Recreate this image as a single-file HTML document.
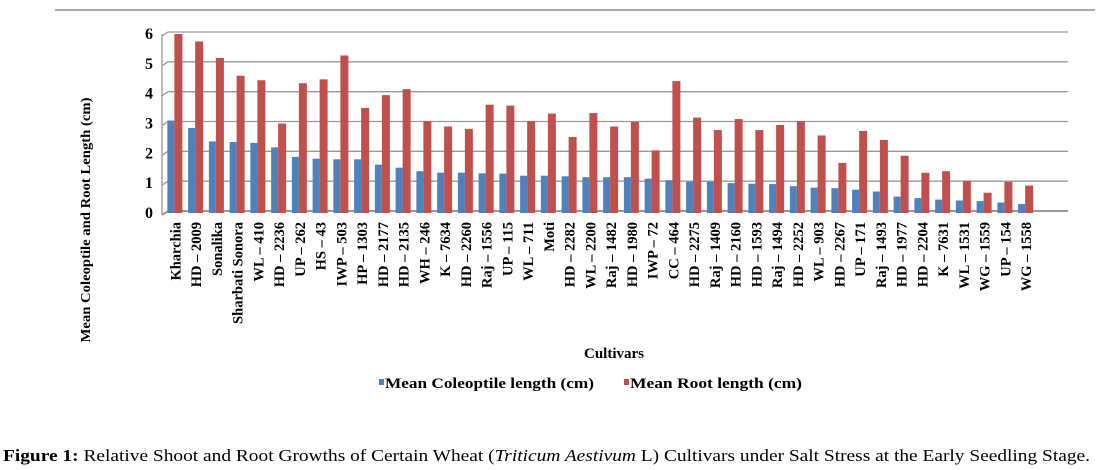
<!DOCTYPE html>
<html><head><meta charset="utf-8"><style>
html,body{margin:0;padding:0;background:#fff;}
svg{display:block;font-family:"Liberation Serif",serif;}
</style></head><body>
<svg id="chart" width="1097" height="470" viewBox="0 0 1097 470" xmlns="http://www.w3.org/2000/svg">
<line x1="55" y1="10" x2="1095" y2="10" stroke="#555" stroke-width="1"/>
<g id="grid"></g><g id="bars"></g><g id="xlabels"></g><g id="ylabels"></g>
<text transform="translate(90,220) rotate(-90)" text-anchor="middle" font-size="14" font-weight="bold" textLength="245" lengthAdjust="spacingAndGlyphs">Mean Coleoptile and Root Length (cm)</text>
<text x="614" y="358" text-anchor="middle" font-size="15" font-weight="bold">Cultivars</text>
<g>
<rect x="379" y="379" width="5" height="6" fill="#4f81bd"/>
<text x="385" y="388" font-size="15" font-weight="bold" textLength="209" lengthAdjust="spacingAndGlyphs">Mean Coleoptile length (cm)</text>
<rect x="624" y="379" width="5" height="6" fill="#c0504d"/>
<text x="630" y="388" font-size="15" font-weight="bold" textLength="172" lengthAdjust="spacingAndGlyphs">Mean Root length (cm)</text>
</g>
<text x="3" y="461" font-size="17" textLength="1087" lengthAdjust="spacingAndGlyphs"><tspan font-weight="bold">Figure 1:</tspan> Relative Shoot and Root Growths of Certain Wheat (<tspan font-style="italic">Triticum Aestivum</tspan> L) Cultivars under Salt Stress at the Early Seedling Stage.</text>
</svg>
<script>
const categories=["Kharchia","HD – 2009","Sonalika","Sharbati Sonora","WL – 410","HD – 2236","UP – 262","HS – 43","IWP – 503","HP – 1303","HD – 2177","HD – 2135","WH – 246","K – 7634","HD – 2260","Raj – 1556","UP – 115","WL – 711","Moti","HD – 2282","WL – 2200","Raj – 1482","HD – 1980","IWP – 72","CC – 464","HD – 2275","Raj – 1409","HD – 2160","HD – 1593","Raj – 1494","HD – 2252","WL – 903","HD – 2267","UP – 171","Raj – 1493","HD – 1977","HD – 2204","K – 7631","WL – 1531","WG – 1559","UP – 154","WG – 1558"];
const coleoptile=[3.1,2.85,2.4,2.38,2.35,2.2,1.88,1.82,1.8,1.8,1.62,1.52,1.4,1.35,1.35,1.33,1.32,1.25,1.25,1.23,1.2,1.2,1.2,1.15,1.1,1.05,1.05,1.0,0.98,0.97,0.9,0.85,0.83,0.78,0.72,0.55,0.5,0.45,0.42,0.4,0.35,0.3];
const root=[6.0,5.75,5.2,4.6,4.45,3.0,4.35,4.48,5.28,3.52,3.95,4.15,3.08,2.9,2.82,3.63,3.6,3.08,3.33,2.55,3.35,2.9,3.05,2.1,4.42,3.2,2.78,3.15,2.78,2.95,3.08,2.6,1.68,2.75,2.45,1.92,1.35,1.4,1.08,0.68,1.05,0.92];
const yTicks=[0,1,2,3,4,5,6];
const NS="http://www.w3.org/2000/svg";
const x0=165,cw=20.75,yb=213,yt=34,ymax=6;
const y=v=>yb-(v/ymax)*(yb-yt);
const xc=i=>x0+cw*i+cw/2;
function mk(t,a,p){const e=document.createElementNS(NS,t);for(const k in a)e.setAttribute(k,a[k]);p.appendChild(e);return e;}
const grid=document.getElementById('grid'),bars=document.getElementById('bars'),xl=document.getElementById('xlabels'),yl=document.getElementById('ylabels');
yTicks.forEach(v=>{
  const l=mk('polyline',{points:`${x0-3},${y(v)+2} ${x0+3},${y(v)-2} 1068,${y(v)-2}`,fill:'none',stroke:'#999','stroke-width':v===0?2:1.3},grid);
  
  
  const t=mk('text',{x:153,y:y(v)+5,'text-anchor':'end','font-size':16,'font-weight':'bold'},yl);
  t.textContent=v;
  
  
});
const ax=mk('line',{x1:x0-3,y1:yt,x2:x0-3,y2:yb+2,stroke:'#999','stroke-width':1.3},grid);


categories.forEach((c,i)=>{
  const b=mk('rect',{x:xc(i)-8,y:y(coleoptile[i]),width:7,height:yb-y(coleoptile[i]),fill:'#4f81bd'},bars);
  
  
  const r=mk('rect',{x:xc(i)-1,y:y(root[i]),width:8,height:yb-y(root[i]),fill:'#c0504d'},bars);
  
  
  const t=mk('text',{transform:`translate(${xc(i)+5},222) rotate(-90)`,'text-anchor':'end','font-size':14.5,'font-weight':'bold'},xl);
  t.textContent=c;
  
  
});
</script>
</body></html>
